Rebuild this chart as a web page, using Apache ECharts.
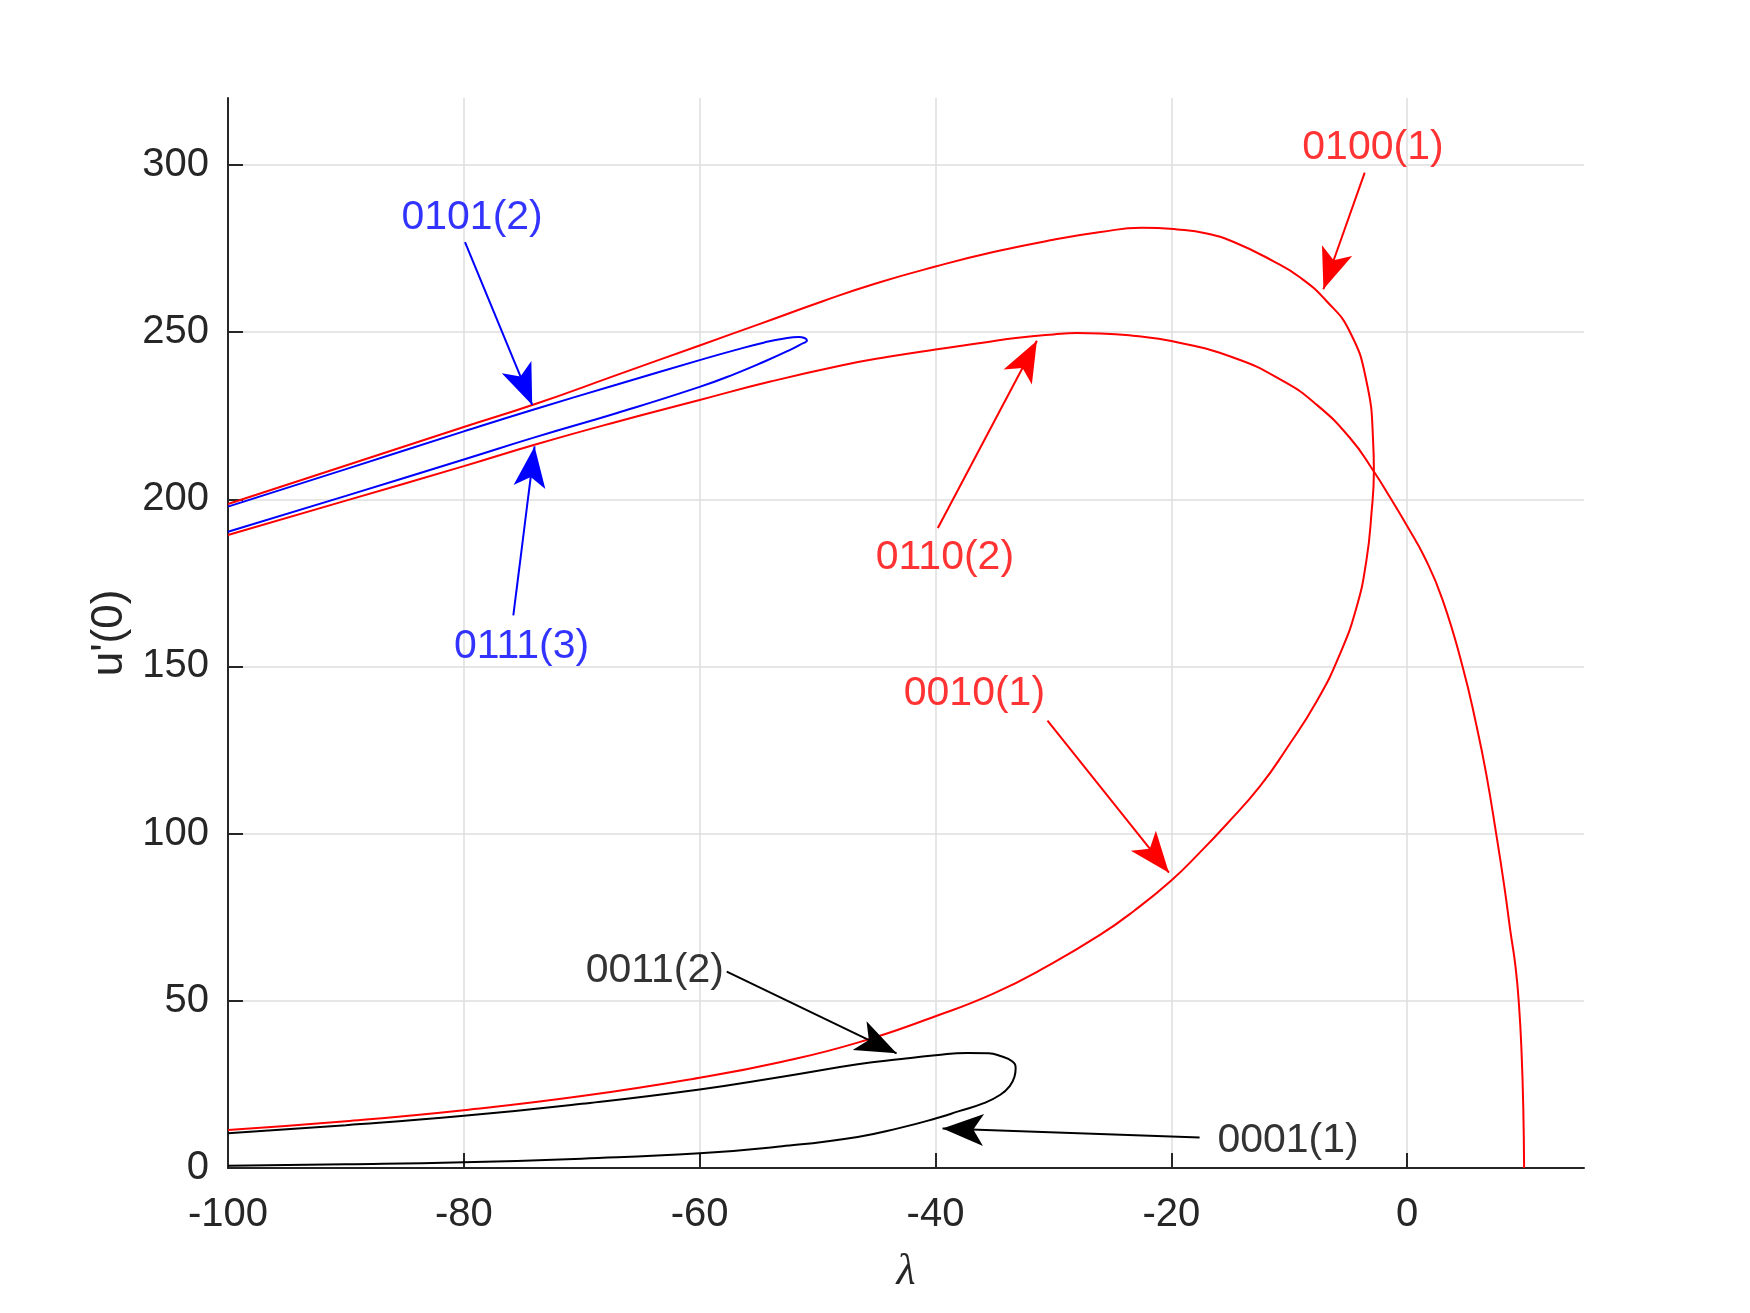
<!DOCTYPE html>
<html>
<head>
<meta charset="utf-8">
<script src="https://cdn.jsdelivr.net/npm/echarts@6/dist/echarts.min.js"></script>
<style>
  html, body { margin: 0; background: #fff; }
  #chart { width: 1750px; height: 1313px; }
</style>
</head>
<body>
<div id="chart"></div>
<script>
const xTicks = [-100, -80, -60, -40, -20, 0];
const yTicks = [0, 50, 100, 150, 200, 250, 300];

// outer red branch: 0100(1) on top, folds near lambda = -3, 0010(1) below
const redFold = [
  [-100, 198.6], [-90, 210.1], [-80, 221.6], [-74, 228.4], [-67, 237.2], [-60, 246.0],
  [-55, 252.3], [-49.5, 259.3], [-45, 264.6], [-40, 269.6], [-35, 274.0], [-30, 277.6],
  [-26, 279.9], [-22.5, 281.2], [-19.5, 280.7], [-17, 279.5], [-14.75, 277.0], [-11.4, 271.3],
  [-9.1, 266.4], [-6.84, 259.3], [-4.86, 250.1], [-3.45, 235.3], [-2.88, 217], [-2.82, 208.6],
  [-3.02, 196], [-3.45, 181.8], [-4.29, 167.7], [-5.71, 153.6], [-7.68, 139.5], [-10.23, 125.4],
  [-12.49, 114.1], [-15.31, 102.8], [-17.57, 94.4], [-20, 86], [-23.2, 76.8], [-26.05, 69.7],
  [-30.4, 60.6], [-35, 52.3], [-40, 45.4], [-46.6, 37.5], [-53, 31.8], [-60, 27.0],
  [-70, 21.5], [-80, 17.3], [-90, 14.0], [-100, 11.4]
];

// inner red branch 0110(2), ends at lambda ~ 10
const red0110 = [
  [-100, 189.3], [-90, 199.6], [-80, 209.9], [-74, 216.3], [-67, 223.2], [-60, 229.7],
  [-54, 235.2], [-48, 240.0], [-44, 242.6], [-40, 244.8], [-36, 246.8], [-33, 248.3],
  [-30, 249.3], [-28, 249.7], [-26, 249.6], [-23, 248.8], [-20, 247.3], [-14.75, 242.4],
  [-10.5, 235.3], [-7.68, 228.3], [-4.86, 218.4], [-2.88, 208.6], [-1.35, 200], [0, 192],
  [1.5, 182.5], [3.0, 170], [4.7, 150], [5.9, 132], [6.7, 118], [7.55, 100], [8.25, 84],
  [8.75, 71], [9.2, 60], [9.5, 48], [9.7, 35], [9.85, 18], [9.92, 0]
];

// blue fold 0101(2) / 0111(3)
const blueFold = [
  [-100, 197.8], [-90, 209.0], [-80, 220.3], [-74.2, 226.7], [-67, 234.3], [-60, 241.6],
  [-57, 244.6], [-54.5, 246.9], [-52.8, 248.1], [-51.6, 248.5], [-50.9, 247.5], [-51.5, 246.2],
  [-52.5, 244.4], [-54.5, 241.2], [-57, 237.5], [-60, 233.6], [-67, 225.8], [-74, 218.5],
  [-80, 211.9], [-90, 201.0], [-100, 190.3]
];

// black fold 0011(2) / 0001(1)
const blackFold = [
  [-100, 10.4], [-90, 12.8], [-80, 15.6], [-70, 19.2], [-60, 23.5], [-53, 27.3],
  [-46.6, 31.0], [-42.9, 32.6], [-40, 33.7], [-37.3, 34.4], [-35.5, 34.3], [-34.5, 33.5],
  [-33.5, 31.9], [-33.2, 29.8], [-33.3, 27.3], [-33.7, 24.5], [-34.5, 21.9], [-35.9, 19.4],
  [-38, 17.0], [-40, 14.8], [-43, 12.0], [-46.6, 9.3], [-53, 6.5], [-60, 4.4],
  [-70, 2.8], [-80, 1.7], [-90, 1.1], [-100, 0.7]
];

// annotations (data units)
const labelNames = ['0101(2)', '0111(3)', '0110(2)', '0100(1)', '0010(1)', '0011(2)', '0001(1)'];
const labelAt = [[-79.3, 284.3], [-75.1, 155.9], [-39.2, 182.4], [-2.9, 305.0], [-36.7, 141.8], [-63.8, 59.0], [-10.1, 8.1]];
const arrowFrom = [[-79.9, 276.9], [-75.8, 165.3], [-39.8, 191.4], [-3.6, 297.7], [-30.5, 133.8], [-57.7, 58.7], [-17.6, 9.1]];
const arrowTo = [[-74.2, 228.2], [-74.0, 215.8], [-31.4, 247.4], [-7.1, 262.8], [-20.2, 88.3], [-43.3, 34.3], [-39.4, 11.8]];

const RED = '#ff0000', BLUE = '#0000ff', BLACK = '#000000';
const labelColors = [BLUE, BLUE, RED, RED, RED, BLACK, BLACK];
const AXIS = '#262626';
const FONT = 'Liberation Sans, Arial, sans-serif';
const HEAD = [24, 41];

const curve = (name, data, color) => ({
  name, type: 'line', data,
  showSymbol: false, symbol: 'none', smooth: 0.5,
  lineStyle: { color, width: 2 },
  silent: true, z: 3
});

const axisCommon = (ticks, margin) => ({
  type: 'value',
  axisLine: { show: true, onZero: false, lineStyle: { color: AXIS, width: 2 } },
  axisTick: { show: true, inside: true, length: 15, customValues: ticks, lineStyle: { color: AXIS, width: 2 } },
  axisLabel: { customValues: ticks, fontSize: 40, color: AXIS, fontFamily: FONT, margin },
  splitLine: { show: true, lineStyle: { color: '#dedede', width: 1.5 } }
});

const myChart = echarts.init(document.getElementById('chart'));

const option = {
  animation: false,
  backgroundColor: '#fff',
  grid: { left: 228, right: 166, top: 98, bottom: 145, containLabel: false },
  xAxis: Object.assign(axisCommon(xTicks, 27), {
    min: -100, max: 15, interval: 20,
    name: 'λ', nameLocation: 'middle', nameGap: 82,
    nameTextStyle: { fontSize: 44, fontStyle: 'italic', fontFamily: 'Liberation Serif, serif', color: AXIS }
  }),
  yAxis: Object.assign(axisCommon(yTicks, 19), {
    min: 0, max: 320, interval: 50,
    name: "u'(0)", nameLocation: 'middle', nameGap: 96,
    nameTextStyle: { fontSize: 44, fontFamily: FONT, color: AXIS }
  }),
  series: [
    curve('redFold', redFold, RED),
    curve('red0110', red0110, RED),
    curve('blueFold', blueFold, BLUE),
    curve('blackFold', blackFold, BLACK),
    {
      name: 'labels', type: 'scatter',
      symbolSize: 1,
      itemStyle: { color: 'rgba(0,0,0,0)' },
      silent: true, z: 5,
      data: labelNames.map((n, i) => ({
        name: n, value: labelAt[i],
        label: { show: true, position: 'inside', formatter: '{b}', fontSize: 41, fontFamily: FONT, color: labelColors[i] }
      })),
      markLine: {
        silent: true,
        animation: false,
        symbol: ['none', 'arrow'],
        label: { show: false },
        emphasis: { disabled: true },
        data: arrowFrom.map((p, i) => [
          { coord: p, symbol: 'none', lineStyle: { color: labelColors[i], width: 2, type: 'solid' } },
          { coord: arrowTo[i], symbol: 'arrow', symbolSize: HEAD, itemStyle: { color: labelColors[i] } }
        ])
      }
    }
  ]
};

myChart.setOption(option);
</script>
</body>
</html>
